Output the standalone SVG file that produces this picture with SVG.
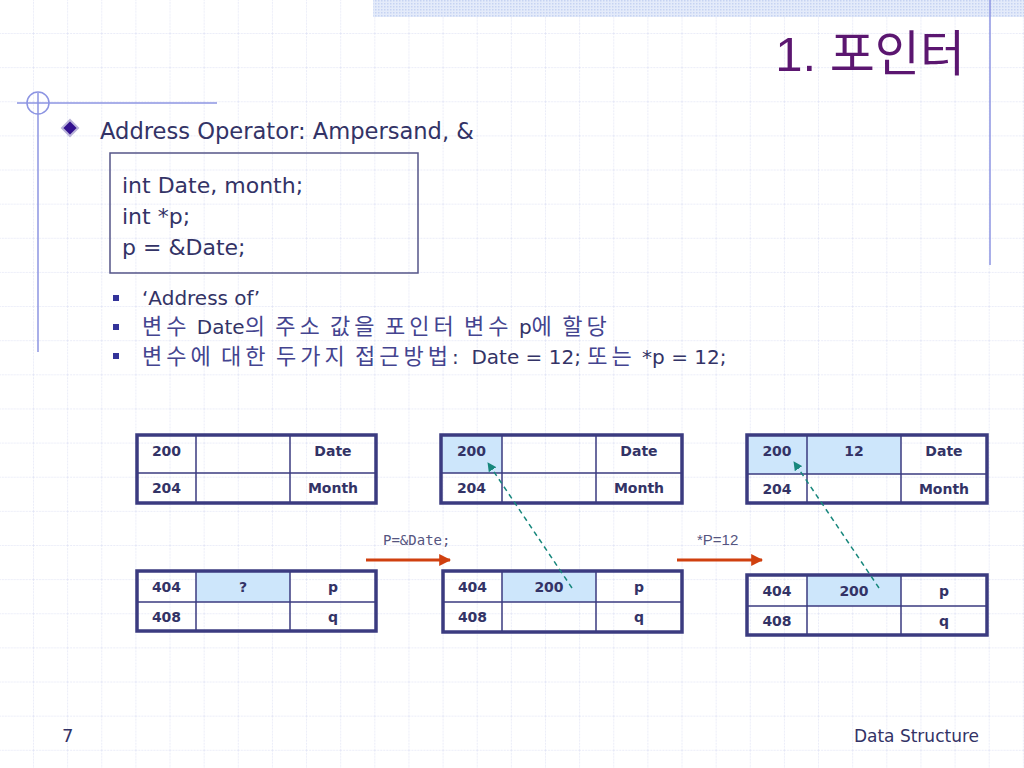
<svg xmlns="http://www.w3.org/2000/svg" width="1024" height="768" viewBox="0 0 1024 768">
<defs>
<pattern id="grid" width="34.133" height="34.133" patternUnits="userSpaceOnUse" x="33" y="33">
<path d="M0 0H34.133M0 0V34.133" fill="none" stroke="#d6daf2" stroke-width="1" stroke-dasharray="2 1"/>
</pattern>
<pattern id="dots" width="3" height="3" patternUnits="userSpaceOnUse">
<rect width="3" height="3" fill="#e4ebfa"/>
<rect width="1.5" height="1.5" fill="#c6d3f2"/>
</pattern>
<marker id="redhead" viewBox="0 0 10 10" refX="9" refY="5" markerWidth="4" markerHeight="4" orient="auto" markerUnits="strokeWidth">
<path d="M0 0L10 5L0 10z" fill="#d0400f"/>
</marker>
<marker id="tealhead" viewBox="0 0 10 10" refX="9" refY="5" markerWidth="6" markerHeight="6" orient="auto" markerUnits="strokeWidth">
<path d="M0 0L10 5L0 10z" fill="#17877c"/>
</marker>
</defs>
<style>
.txt{font-family:"DejaVu Sans","Noto Sans CJK KR",sans-serif;fill:#333366}
.code{font-size:22px}
.bul{font-size:20px}
.k{font-size:22px;letter-spacing:4px;fill:#44448f}
.cell{fill:none;stroke:#3b3b80;stroke-width:1.5}
.frame{fill:none;stroke:#3b3b80;stroke-width:3.5}
.hl{fill:#cde6fb}
.tt{font-family:"DejaVu Sans",sans-serif;font-weight:bold;font-size:14px;fill:#333366;text-anchor:middle}
.deco{stroke:#8c94e2;stroke-width:1.5;fill:none}
.red{stroke:#d0400f;stroke-width:3;fill:none}
.teal{stroke:#17877c;stroke-width:1.5;stroke-dasharray:5 4;fill:none}
</style>
<rect width="1024" height="768" fill="#ffffff"/>
<rect width="1024" height="768" fill="url(#grid)"/>
<g id="decor">
<rect x="373" y="0" width="651" height="17" fill="url(#dots)"/>
<line class="deco" x1="990" y1="0" x2="990" y2="265"/>
<line class="deco" x1="17" y1="103" x2="217" y2="103"/>
<line class="deco" x1="38" y1="93" x2="38" y2="352"/>
<circle class="deco" cx="38" cy="103" r="11"/>
</g>
<g id="title">
<text x="965" y="71" font-family="Liberation Sans,Noto Sans CJK KR,sans-serif" font-size="49" fill="#5b1670" text-anchor="end">1. 포인터</text>
</g>
<g id="heading">
<path d="M70 120L78 128L70 136L62 128z" fill="#33118f" stroke="#b9b3d9" stroke-width="2"/>
<text class="txt" x="100" y="139" font-size="22.6">Address Operator: Ampersand, &amp;</text>
</g>
<g id="codebox">
<rect x="110" y="153" width="308" height="120" fill="none" stroke="#555588" stroke-width="1.5"/>
<text class="txt code" x="122" y="193">int Date, month;</text>
<text class="txt code" x="122" y="224">int *p;</text>
<text class="txt code" x="122" y="255">p = &amp;Date;</text>
</g>
<g id="bullets">
<rect x="113" y="295" width="6" height="6" fill="#333399"/>
<rect x="113" y="324" width="6" height="6" fill="#333399"/>
<rect x="113" y="353" width="6" height="6" fill="#333399"/>
<text class="txt bul" x="142" y="305">‘Address of’</text>
<text class="txt bul" x="142" y="334" xml:space="preserve"><tspan class="k">변수</tspan> Date<tspan class="k">의</tspan> <tspan class="k">주소</tspan> <tspan class="k">값을</tspan> <tspan class="k">포인터</tspan> <tspan class="k">변수</tspan> p<tspan class="k">에</tspan> <tspan class="k">할당</tspan></text>
<text class="txt bul" x="142" y="364" xml:space="preserve"><tspan class="k">변수에</tspan> <tspan class="k">대한</tspan> <tspan class="k">두가지</tspan> <tspan class="k">접근방법</tspan>:  Date = 12; <tspan class="k">또는</tspan> *p = 12;</text>
</g>
<g id="mem1-top">
<path class="cell" d="M137 473H376M196 435V503M290 435V503"/>
<rect class="frame" x="137" y="435" width="239" height="68"/>
<text class="tt" x="166.5" y="456">200</text>
<text class="tt" x="333" y="456">Date</text>
<text class="tt" x="166.5" y="493">204</text>
<text class="tt" x="333" y="493">Month</text>
</g>
<g id="mem1-bottom">
<rect class="hl" x="196" y="571" width="94" height="31"/>
<path class="cell" d="M137 602H376M196 571V631M290 571V631"/>
<rect class="frame" x="137" y="571" width="239" height="60"/>
<text class="tt" x="166.5" y="591.5">404</text>
<text class="tt" x="243" y="591.5">?</text>
<text class="tt" x="333" y="591.5">p</text>
<text class="tt" x="166.5" y="621.5">408</text>
<text class="tt" x="333" y="621.5">q</text>
</g>
<g id="mem2-top">
<rect class="hl" x="441" y="435" width="61" height="38"/>
<path class="cell" d="M441 473H682M502 435V503M596 435V503"/>
<rect class="frame" x="441" y="435" width="241" height="68"/>
<text class="tt" x="471.5" y="456">200</text>
<text class="tt" x="639" y="456">Date</text>
<text class="tt" x="471.5" y="493">204</text>
<text class="tt" x="639" y="493">Month</text>
</g>
<g id="mem2-bottom">
<rect class="hl" x="502" y="571" width="94" height="31"/>
<path class="cell" d="M443 602H682M502 571V632M596 571V632"/>
<rect class="frame" x="443" y="571" width="239" height="61"/>
<text class="tt" x="472.5" y="591.5">404</text>
<text class="tt" x="549" y="591.5">200</text>
<text class="tt" x="639" y="591.5">p</text>
<text class="tt" x="472.5" y="622">408</text>
<text class="tt" x="639" y="622">q</text>
</g>
<g id="mem3-top">
<rect class="hl" x="747" y="435" width="154" height="39"/>
<path class="cell" d="M747 474H987M807 435V503M901 435V503"/>
<rect class="frame" x="747" y="435" width="240" height="68"/>
<text class="tt" x="777" y="456">200</text>
<text class="tt" x="854" y="456">12</text>
<text class="tt" x="944" y="456">Date</text>
<text class="tt" x="777" y="494">204</text>
<text class="tt" x="944" y="494">Month</text>
</g>
<g id="mem3-bottom">
<rect class="hl" x="807" y="575" width="94" height="31"/>
<path class="cell" d="M747 606H987M807 575V635M901 575V635"/>
<rect class="frame" x="747" y="575" width="240" height="60"/>
<text class="tt" x="777" y="595.5">404</text>
<text class="tt" x="854" y="595.5">200</text>
<text class="tt" x="944" y="595.5">p</text>
<text class="tt" x="777" y="625.5">408</text>
<text class="tt" x="944" y="625.5">q</text>
</g>
<g id="connectors">
<line class="red" x1="366" y1="560" x2="450" y2="560" marker-end="url(#redhead)"/>
<line class="red" x1="677" y1="560" x2="762" y2="560" marker-end="url(#redhead)"/>
<line class="teal" x1="572" y1="588" x2="488" y2="463" marker-end="url(#tealhead)"/>
<line class="teal" x1="879" y1="588" x2="794" y2="462" marker-end="url(#tealhead)"/>
<text x="383" y="545" font-family="DejaVu Sans Mono,monospace" font-size="14" fill="#555580">P=&amp;Date;</text>
<text x="697" y="545" font-family="Liberation Sans,sans-serif" font-size="15" fill="#555580">*P=12</text>
</g>
<g id="footer">
<text class="txt" x="62" y="742" font-size="18">7</text>
<text x="979" y="742" font-family="DejaVu Sans,sans-serif" font-size="17" fill="#333366" text-anchor="end">Data Structure</text>
</g>
</svg>
